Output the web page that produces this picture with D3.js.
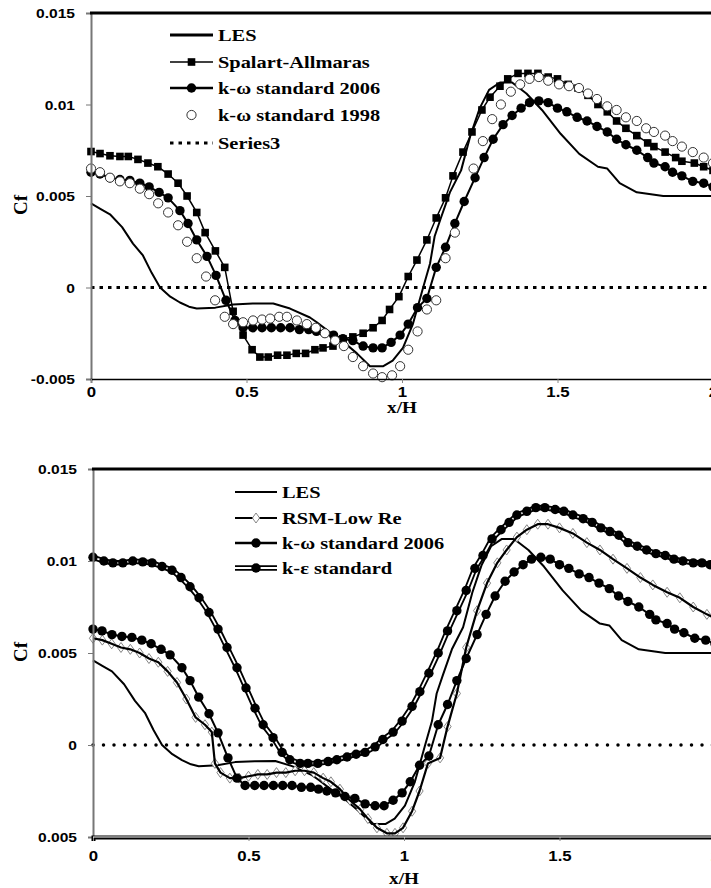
<!DOCTYPE html>
<html>
<head>
<meta charset="utf-8">
<script src="https://cdn.jsdelivr.net/npm/d3@7"></script>
<style>
body { margin: 0; background: #fff; }
svg { display: block; font-family: "Liberation Serif", "Times New Roman", serif; font-weight: bold; }
</style>
</head>
<body>
<svg id="chart" width="711" height="888"></svg>
<script>
// skin friction coefficient along the hill, x/H vs Cf
let xTicks = [0, 0.5, 1, 1.5, 2];
let xTickLabels = ['0', '0.5', '1', '1.5', '2'];
let yTicks = [-0.005, 0, 0.005, 0.01, 0.015];
let yTickLabels1 = ['-0.005', '0', '0.005', '0.01', '0.015'];
let yTickLabels2 = ['0.005', '0', '0.005', '0.01', '0.015'];

let namesTop = ['LES', 'Spalart-Allmaras', 'k-ω standard 2006', 'k-ω standard 1998', 'Series3'];
let namesBottom = ['LES', 'RSM-Low Re', 'k-ω standard 2006', 'k-ε standard'];

let les = [[0,0.0046],[0.03,0.0043],[0.061,0.0040],[0.1,0.0033],[0.135,0.0024],[0.167,0.00175],[0.195,0.0008],
  [0.222,0.0],[0.255,-0.0005],[0.286,-0.00082],[0.315,-0.00105],[0.34,-0.00115],[0.40,-0.0011],[0.457,-0.00093],
  [0.52,-0.00088],[0.586,-0.00087],[0.64,-0.00115],[0.704,-0.00164],[0.726,-0.0019],[0.78,-0.0026],[0.80,-0.0028],
  [0.855,-0.0036],[0.897,-0.0043],[0.94,-0.0043],[0.97,-0.0040],[1.003,-0.0033],[1.035,-0.0020],[1.068,0.0],
  [1.09,0.0013],[1.105,0.0028],[1.125,0.0038],[1.154,0.0052],[1.19,0.0064],[1.22,0.0083],[1.25,0.0098],
  [1.28,0.0108],[1.315,0.0112],[1.354,0.0112],[1.40,0.0106],[1.45,0.0097],[1.51,0.0084],[1.57,0.0073],
  [1.63,0.0066],[1.66,0.0065],[1.70,0.0057],[1.755,0.0052],[1.84,0.0050],[2.0,0.0050]];

let spalart = [[0,0.00743],[0.029,0.00732],[0.061,0.0072],[0.093,0.00716],[0.12,0.00716],[0.151,0.0070],
  [0.183,0.0068],[0.215,0.0066],[0.248,0.0062],[0.28,0.0057],[0.309,0.0050],[0.34,0.0041],[0.367,0.0030],
  [0.40,0.0020],[0.43,0.0011],[0.457,-0.0013],[0.489,-0.0026],[0.518,-0.0034],[0.543,-0.0038],[0.57,-0.0038],
  [0.60,-0.0037],[0.63,-0.0037],[0.66,-0.0036],[0.69,-0.0036],[0.72,-0.0034],[0.746,-0.0033],[0.778,-0.0032],
  [0.81,-0.0028],[0.842,-0.0027],[0.875,-0.0025],[0.907,-0.0022],[0.936,-0.0018],[0.96,-0.0012],[0.99,-0.0005],
  [1.02,0.0006],[1.048,0.0015],[1.08,0.0026],[1.11,0.0038],[1.14,0.0049],[1.164,0.0061],[1.196,0.0074],
  [1.225,0.0085],[1.257,0.0097],[1.283,0.0104],[1.315,0.0110],[1.34,0.0114],[1.373,0.0117],[1.405,0.0117],
  [1.437,0.0117],[1.47,0.0115],[1.50,0.0114],[1.534,0.0111],[1.566,0.0109],[1.598,0.0105],[1.63,0.0100],
  [1.66,0.0096],[1.69,0.0091],[1.72,0.0087],[1.755,0.0083],[1.79,0.0079],[1.81,0.0077],[1.846,0.0074],
  [1.88,0.0071],[1.90,0.0069],[1.94,0.0068],[1.97,0.0066],[2.0,0.0064]];

let kw2006 = [[0,0.0063],[0.029,0.0062],[0.061,0.0060],[0.093,0.0059],[0.125,0.00585],[0.157,0.0057],
  [0.187,0.0055],[0.219,0.0052],[0.248,0.0049],[0.286,0.0042],[0.312,0.0035],[0.34,0.0026],[0.373,0.0017],
  [0.402,0.00066],[0.434,-0.0007],[0.463,-0.0018],[0.489,-0.0022],[0.52,-0.0022],[0.55,-0.0022],[0.58,-0.0022],
  [0.61,-0.0022],[0.64,-0.0022],[0.67,-0.0023],[0.70,-0.0023],[0.725,-0.0024],[0.752,-0.0025],[0.78,-0.0026],
  [0.81,-0.0028],[0.842,-0.0029],[0.875,-0.0032],[0.907,-0.0033],[0.936,-0.0033],[0.965,-0.0030],[0.994,-0.0026],
  [1.02,-0.0020],[1.05,-0.0011],[1.08,-0.0006],[1.11,0.0011],[1.14,0.0022],[1.17,0.0035],[1.2,0.0047],
  [1.235,0.0060],[1.264,0.0071],[1.293,0.0081],[1.325,0.0089],[1.354,0.0094],[1.383,0.0098],[1.41,0.0101],
  [1.44,0.0102],[1.47,0.0101],[1.50,0.0098],[1.53,0.0096],[1.563,0.0093],[1.595,0.0091],[1.627,0.0088],
  [1.66,0.0085],[1.69,0.0081],[1.72,0.0078],[1.755,0.0075],[1.79,0.0071],[1.81,0.0068],[1.846,0.0066],
  [1.87,0.0063],[1.90,0.0061],[1.935,0.0058],[1.97,0.0057],[2.0,0.0055]];

let kw1998 = [[0,0.0065],[0.029,0.0063],[0.061,0.0060],[0.093,0.0058],[0.125,0.0057],[0.157,0.0054],
  [0.187,0.0051],[0.216,0.0046],[0.248,0.0041],[0.28,0.0034],[0.309,0.0025],[0.34,0.0016],[0.37,0.0006],
  [0.399,-0.0007],[0.43,-0.0016],[0.457,-0.0020],[0.489,-0.0019],[0.521,-0.0018],[0.55,-0.00175],[0.576,-0.0017],
  [0.605,-0.0016],[0.63,-0.0016],[0.662,-0.0018],[0.694,-0.0020],[0.723,-0.0022],[0.752,-0.0025],[0.785,-0.0029],
  [0.813,-0.0032],[0.842,-0.0038],[0.875,-0.0043],[0.907,-0.0047],[0.936,-0.0049],[0.968,-0.0048],[0.994,-0.0043],
  [1.02,-0.0034],[1.05,-0.0024],[1.08,-0.0012],[1.11,-0.0007],[1.14,0.0016],[1.17,0.0030],[1.23,0.0065],
  [1.26,0.0080],[1.29,0.0092],[1.318,0.0100],[1.35,0.0107],[1.38,0.0111],[1.41,0.0114],[1.44,0.0115],
  [1.47,0.0113],[1.505,0.0111],[1.537,0.0110],[1.569,0.0109],[1.598,0.0106],[1.627,0.0103],[1.66,0.0099],
  [1.69,0.0097],[1.72,0.0093],[1.755,0.0091],[1.785,0.0087],[1.81,0.0085],[1.846,0.0083],[1.87,0.0080],
  [1.90,0.0077],[1.935,0.0074],[1.97,0.0071],[2.0,0.0068]];

let rsmLowRe = [[0,0.0058],[0.03,0.0057],[0.06,0.0055],[0.09,0.0053],[0.12,0.0052],[0.15,0.0050],[0.18,0.0047],
  [0.21,0.0045],[0.24,0.0040],[0.27,0.0034],[0.30,0.0025],[0.33,0.0015],[0.36,0.0011],[0.382,0.0007],
  [0.392,-0.0010],[0.41,-0.0015],[0.44,-0.0018],[0.47,-0.0018],[0.50,-0.0017],[0.53,-0.0016],[0.56,-0.0016],
  [0.59,-0.0015],[0.62,-0.0015],[0.65,-0.0014],[0.68,-0.0014],[0.71,-0.0015],[0.74,-0.0018],[0.765,-0.0020],
  [0.794,-0.0024],[0.826,-0.0030],[0.859,-0.0035],[0.884,-0.0040],[0.913,-0.0045],[0.945,-0.0048],
  [0.971,-0.0048],[0.997,-0.0045],[1.026,-0.0036],[1.05,-0.0025],[1.077,-0.0010],[1.116,-0.0007],
  [1.14,0.0010],[1.17,0.0028],[1.2,0.0053],[1.235,0.0073],[1.267,0.0088],[1.30,0.0099],[1.33,0.0106],
  [1.363,0.0113],[1.395,0.0117],[1.43,0.0120],[1.463,0.0120],[1.50,0.0118],[1.543,0.0115],[1.588,0.0110],
  [1.63,0.0106],[1.672,0.0101],[1.717,0.0096],[1.76,0.0091],[1.80,0.0087],[1.846,0.0083],[1.887,0.0080],
  [1.93,0.0075],[1.974,0.0071],[2.0,0.0069]];

let keStandard = [[0,0.0102],[0.035,0.0100],[0.064,0.0099],[0.096,0.0099],[0.128,0.0100],[0.16,0.00995],
  [0.19,0.0099],[0.222,0.0097],[0.254,0.0095],[0.283,0.0091],[0.312,0.0086],[0.341,0.0080],[0.373,0.0072],
  [0.402,0.0063],[0.431,0.0053],[0.463,0.0042],[0.492,0.0031],[0.521,0.0020],[0.547,0.0011],[0.579,0.0004],
  [0.608,-0.0004],[0.633,-0.0008],[0.666,-0.0010],[0.691,-0.0010],[0.723,-0.0010],[0.756,-0.0009],
  [0.784,-0.0008],[0.817,-0.00065],[0.846,-0.0005],[0.875,-0.0004],[0.907,-0.0001],[0.932,0.0003],
  [0.965,0.0007],[0.994,0.0013],[1.026,0.0021],[1.051,0.0029],[1.08,0.0039],[1.11,0.0050],[1.14,0.0062],
  [1.17,0.0073],[1.2,0.0084],[1.228,0.0096],[1.254,0.0103],[1.283,0.0112],[1.312,0.0117],[1.338,0.0121],
  [1.363,0.0125],[1.395,0.0127],[1.424,0.0129],[1.453,0.0129],[1.486,0.0128],[1.514,0.0127],[1.543,0.0125],
  [1.576,0.0123],[1.605,0.0121],[1.633,0.0118],[1.662,0.0116],[1.691,0.0114],[1.72,0.0110],[1.75,0.0108],
  [1.78,0.0106],[1.81,0.0104],[1.84,0.0103],[1.868,0.0101],[1.897,0.0100],[1.93,0.0099],[1.958,0.0099],
  [1.984,0.0098]];

let zeroLine = [[0, 0], [2, 0]];

const svg = d3.select('#chart');
const SX = 1.2; // the scanned figure is stretched sideways

function putText(g, str, x, y, size, anchor) {
    return g.append('text')
        .attr('transform', 'translate(' + x + ',' + y + ') scale(' + SX + ',1)')
        .attr('text-anchor', anchor || 'start')
        .style('font-size', size + 'px')
        .text(str);
}

class CfPanel {
    constructor(left, top, bottom) {
        this._x = d3.scaleLinear().domain([0, 2]).range([left, left + 622]);
        this._y = d3.scaleLinear().domain([-0.005, 0.015]).range([bottom, top]);
        this._g = svg.append('g');
        this._plot = this._g.append('g');
    }
    axes(yLabels, tickFont, labelY, doubleBase) {
        let x = this._x, y = this._y, g = this._g;
        let yAxis = g.append('g')
            .attr('transform', 'translate(' + x(0) + ',0)')
            .call(d3.axisLeft(y).tickValues(yTicks).tickSizeOuter(0).tickSize(5)
                .tickFormat((d, i) => yLabels[i]));
        yAxis.select('.domain').attr('stroke', '#777').attr('stroke-width', 2);
        yAxis.selectAll('.tick line').attr('stroke', '#777');
        yAxis.selectAll('.tick text').attr('x', null).attr('dy', null)
            .attr('transform', 'translate(-16,4.5) scale(' + SX + ',1)')
            .style('font-size', tickFont + 'px').style('font-family', 'inherit');

        let xAxis = g.append('g')
            .attr('transform', 'translate(0,' + y(-0.005) + ')')
            .call(d3.axisBottom(x).tickValues(xTicks).tickSizeOuter(0).tickSize(4)
                .tickFormat((d, i) => xTickLabels[i]));
        xAxis.select('.domain').attr('stroke', '#000').attr('stroke-width', doubleBase ? 4 : 1.5);
        if (doubleBase) {
            g.append('line').attr('x1', x(0)).attr('x2', x(2))
                .attr('y1', y(-0.005)).attr('y2', y(-0.005))
                .attr('stroke', '#fff').attr('stroke-width', 1.2);
        }
        xAxis.selectAll('.tick line').attr('stroke', '#888');
        xAxis.selectAll('.tick text').attr('y', null).attr('dy', null)
            .attr('transform', 'translate(0,' + labelY + ') scale(' + SX + ',1)')
            .style('font-size', (tickFont + 1) + 'px').style('font-family', 'inherit');

        // heavy frame line along the top
        g.append('line').attr('x1', x(0) - 1).attr('x2', x(2))
            .attr('y1', y(0.015)).attr('y2', y(0.015))
            .attr('stroke', '#000').attr('stroke-width', 3);
    }
    titles(xLabelY, cfY) {
        putText(this._g, 'x/H', this._x(1), xLabelY, 16, 'middle');
        this._g.append('text')
            .attr('transform', 'translate(27,' + cfY + ') rotate(-90)')
            .attr('text-anchor', 'middle')
            .style('font-size', '19px')
            .text('Cf');
    }
    line(data, width, dash, cap) {
        let gen = d3.line().x(d => this._x(d[0])).y(d => this._y(d[1]));
        this._plot.append('path').datum(data)
            .attr('fill', 'none').attr('stroke', '#000')
            .attr('stroke-width', width)
            .attr('stroke-dasharray', dash || null)
            .attr('stroke-linecap', cap || 'butt')
            .attr('stroke-linejoin', 'round')
            .attr('d', gen);
    }
    doubleLine(data) {
        this.line(data, 5.5);
        let gen = d3.line().x(d => this._x(d[0])).y(d => this._y(d[1]));
        this._plot.append('path').datum(data)
            .attr('fill', 'none').attr('stroke', '#fff').attr('stroke-width', 1.8)
            .attr('stroke-linejoin', 'round').attr('d', gen);
    }
    markers(data, shape) {
        let sel = this._plot.append('g').selectAll('.m').data(data).enter();
        drawShape(sel, shape, d => this._x(d[0]), d => this._y(d[1]));
    }
}

function drawShape(sel, shape, fx, fy) {
    if (shape == 'square') {
        sel.append('rect').attr('x', d => fx(d) - 3.8).attr('y', d => fy(d) - 3.8)
            .attr('width', 7.6).attr('height', 7.6).attr('fill', '#000');
    } else if (shape == 'dot') {
        sel.append('circle').attr('cx', fx).attr('cy', fy).attr('r', 4.7).attr('fill', '#000');
    } else if (shape == 'ring') {
        sel.append('circle').attr('cx', fx).attr('cy', fy).attr('r', 4.6)
            .attr('fill', '#fff').attr('stroke', '#333').attr('stroke-width', 1);
    } else if (shape == 'diamond') {
        sel.append('path')
            .attr('d', d => 'M' + fx(d) + ',' + (fy(d) - 5) + 'l3.6,5l-3.6,5l-3.6,-5z')
            .attr('fill', '#fff').attr('stroke', '#777').attr('stroke-width', 0.9);
    }
}

function legend(items, x0, x1, rows) {
    let g = svg.append('g');
    items.forEach((it, i) => {
        let yy = rows[i];
        if (it.double) {
            g.append('line').attr('x1', x0).attr('x2', x1).attr('y1', yy).attr('y2', yy)
                .attr('stroke', '#000').attr('stroke-width', 5.5);
            g.append('line').attr('x1', x0).attr('x2', x1).attr('y1', yy).attr('y2', yy)
                .attr('stroke', '#fff').attr('stroke-width', 1.8);
        } else if (it.width) {
            g.append('line').attr('x1', x0).attr('x2', x1).attr('y1', yy).attr('y2', yy)
                .attr('stroke', '#000').attr('stroke-width', it.width)
                .attr('stroke-dasharray', it.dash || null)
                .attr('stroke-linecap', it.cap || 'butt');
        }
        if (it.shape) {
            drawShape(g.selectAll('.lm' + i).data([0]).enter(), it.shape, () => (x0 + x1) / 2, () => yy);
        }
        putText(g, it.name, x1 + 5, yy + 6, 17);
    });
}

// top panel
let panelTop = new CfPanel(91, 13, 379);
panelTop.axes(yTickLabels1, 13, 18, false);
panelTop.titles(413, 205);
panelTop.line(zeroLine, 3, '3.5,5');
panelTop.line(les, 2);
panelTop.line(spalart, 1.5);
panelTop.markers(spalart, 'square');
panelTop.line(kw2006, 2);
panelTop.markers(kw2006, 'dot');
panelTop.markers(kw1998, 'ring');
legend([
    {name: namesTop[0], width: 3},
    {name: namesTop[1], width: 1.3, shape: 'square'},
    {name: namesTop[2], width: 2.5, shape: 'dot'},
    {name: namesTop[3], shape: 'ring'},
    {name: namesTop[4], width: 3, dash: '3.5,5'}
], 170, 213, [35, 62, 88, 115, 143]);

// bottom panel
let panelBottom = new CfPanel(93, 469, 837);
panelBottom.axes(yTickLabels2, 13, 24, true);
panelBottom.titles(884, 652);
panelBottom.line(zeroLine, 3.5, '0,10.5', 'round');
panelBottom.line(les, 2);
panelBottom.markers(rsmLowRe, 'diamond');
panelBottom.line(rsmLowRe, 2.2);
panelBottom.line(kw2006, 2);
panelBottom.markers(kw2006, 'dot');
panelBottom.doubleLine(keStandard);
panelBottom.markers(keStandard, 'dot');
legend([
    {name: namesBottom[0], width: 2},
    {name: namesBottom[1], width: 2, shape: 'diamond'},
    {name: namesBottom[2], width: 2.5, shape: 'dot'},
    {name: namesBottom[3], double: true, shape: 'dot'}
], 235, 277, [492, 518, 543, 568]);
</script>
</body>
</html>
